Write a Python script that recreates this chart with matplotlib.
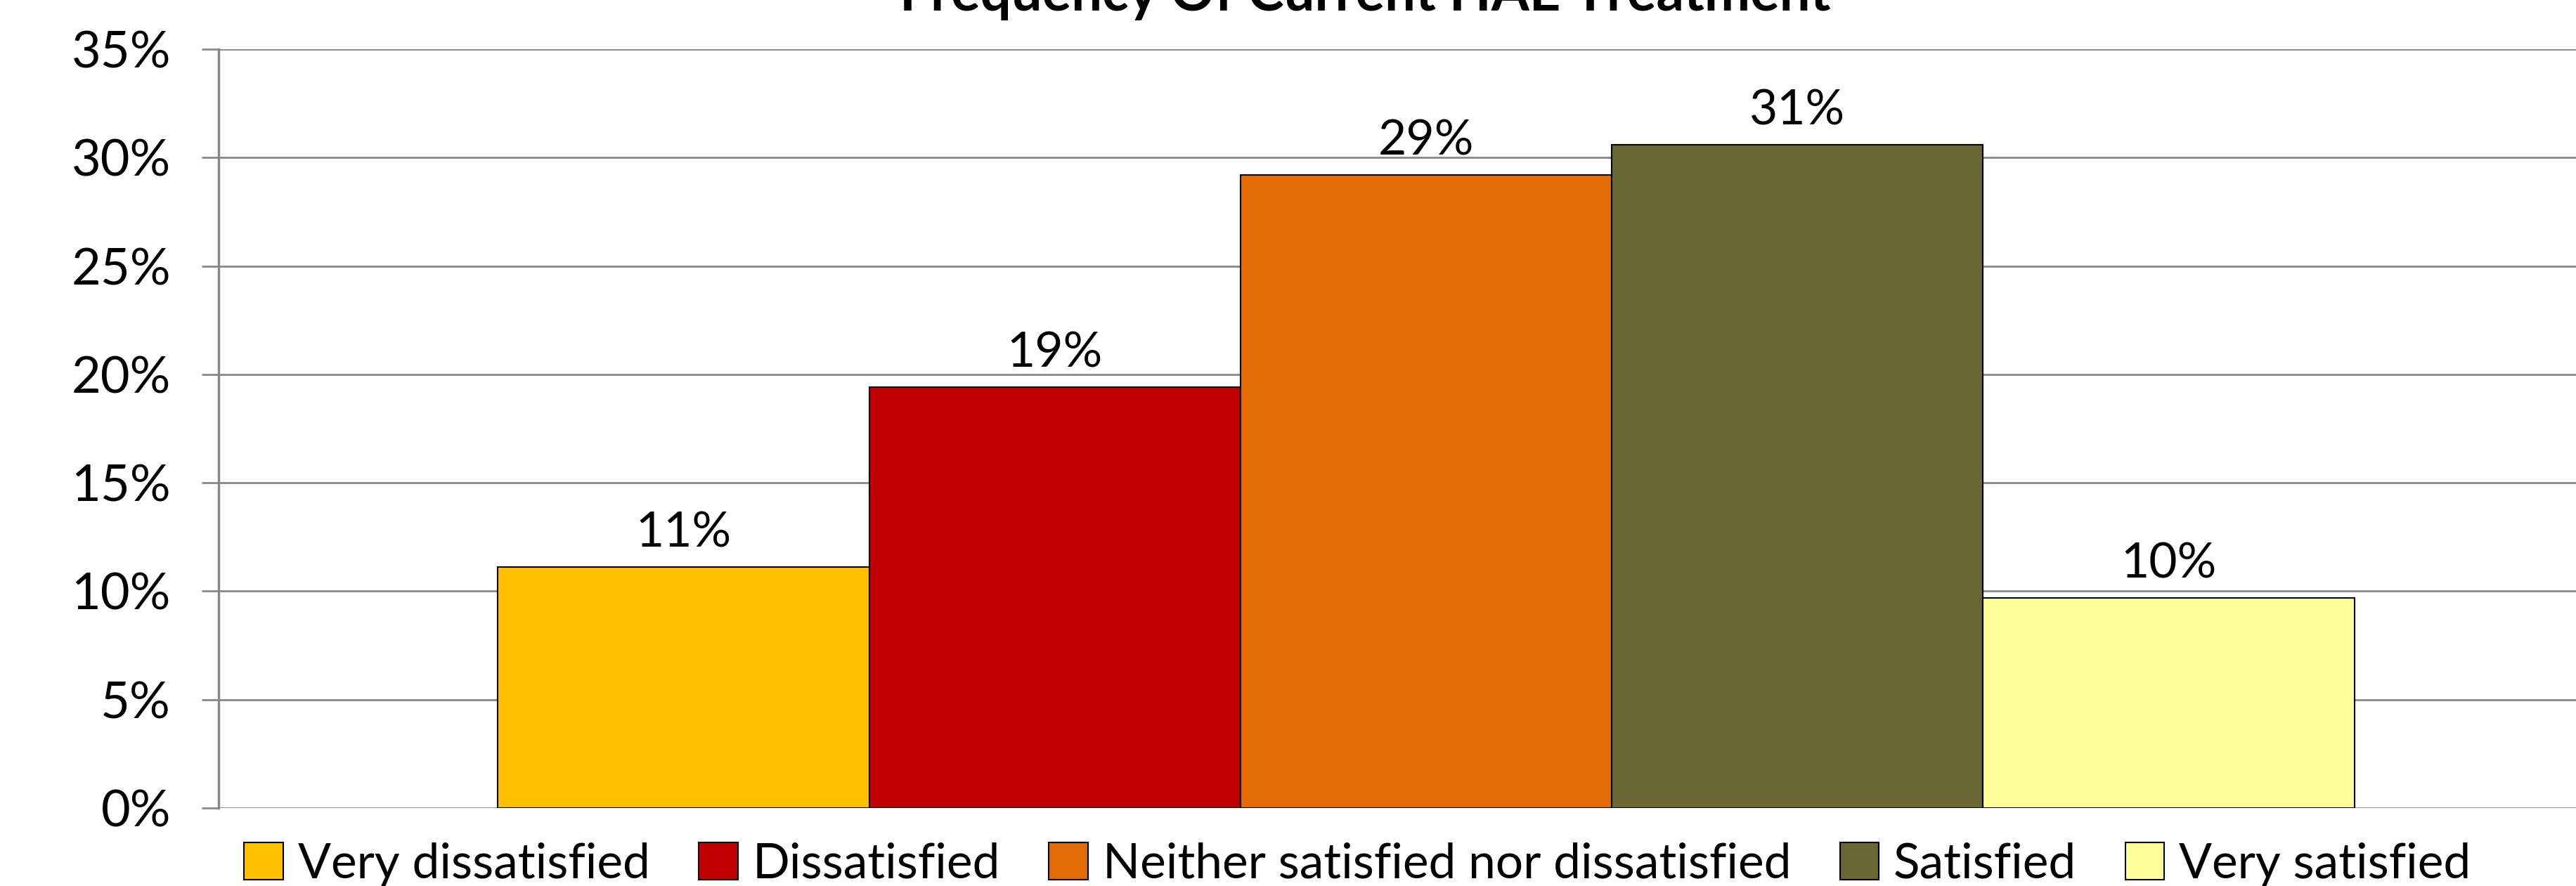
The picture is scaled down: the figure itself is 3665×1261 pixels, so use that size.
import matplotlib
matplotlib.use('Agg')
import matplotlib.pyplot as plt
from matplotlib.patches import Patch
from matplotlib.ticker import FuncFormatter

categories = ['Very dissatisfied', 'Dissatisfied', 'Neither satisfied nor dissatisfied',
              'Satisfied', 'Very satisfied']
values = [11.1, 19.4, 29.2, 30.6, 9.7]
labels = ['11%', '19%', '29%', '31%', '10%']
colors = ['#FFC000', '#C00000', '#E36C09', '#696733', '#FFFF99']
title = 'Frequency Of Current HAE Treatment'

plt.rcParams['font.family'] = ['Lato', 'DejaVu Sans']
fs = 50

fig = plt.figure(figsize=(36.65, 12.61), dpi=100)
ax = fig.add_axes([311 / 3665, 1 - 1150 / 1261, 1 - 311 / 3665, (1150 - 70) / 1261])

positions = [i - 2 for i in range(len(values))]
bars = ax.bar(positions, values, width=1.0, color=colors, edgecolor='black', linewidth=1.5, zorder=3)
for b, lab in zip(bars, labels):
    ax.annotate(lab, (b.get_x() + b.get_width() / 2, b.get_height()),
                xytext=(0, 12), textcoords='offset points',
                ha='center', va='bottom', fontsize=fs)

ax.set_xlim(-3.252, 3.097)
ax.set_ylim(0, 35)
ax.set_yticks(range(0, 36, 5))
ax.yaxis.set_major_formatter(FuncFormatter(lambda v, p: '%d%%' % v))
ax.tick_params(axis='y', labelsize=52, length=17, width=2, color='#888888', pad=32)
ax.set_xticks([])
ax.grid(axis='y', color='#888888', linewidth=2, zorder=0)
for s in ['top', 'right', 'bottom']:
    ax.spines[s].set_visible(False)
ax.spines['left'].set_color('#888888')
ax.spines['left'].set_linewidth(2.5)

fig.text(0.53, 1 - 15 / 1261, title, ha='center', va='baseline', fontsize=56, fontweight='bold')

handles = [Patch(facecolor=c, edgecolor='black', linewidth=1.5) for c in colors]
fig.legend(handles, categories, loc='center', bbox_to_anchor=(0.527, 1 - 1230 / 1261),
           ncol=5, frameon=False, fontsize=fs, handlelength=0.8, handleheight=0.8,
           handletextpad=0.3, columnspacing=1.0, borderpad=0)

fig.savefig('out.png', dpi=100)
